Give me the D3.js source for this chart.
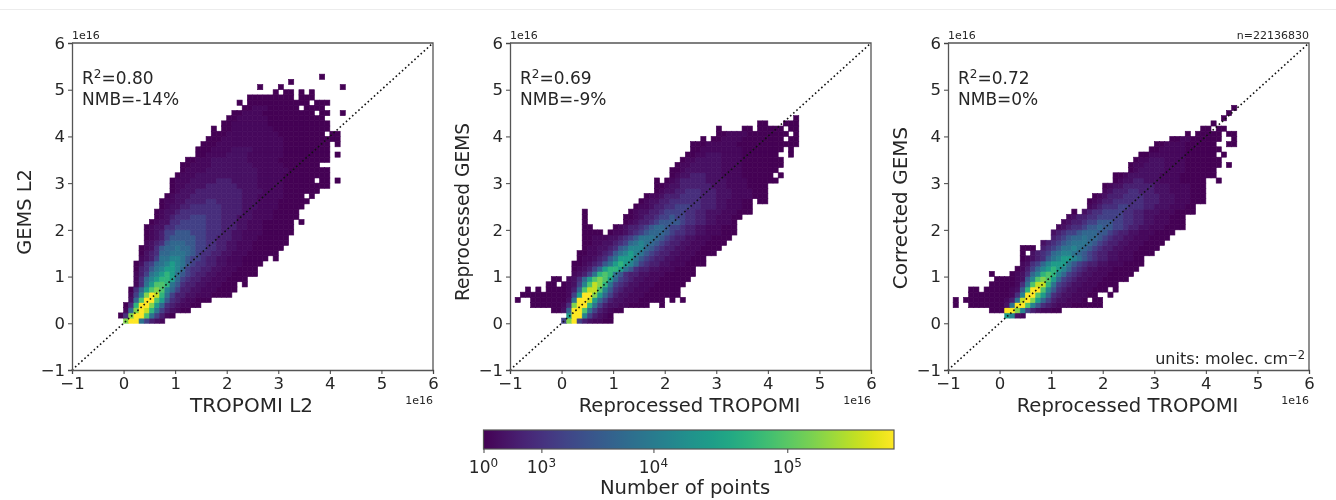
<!DOCTYPE html>
<head>
  <meta charset="utf-8" />
  <script src="https://d3js.org/d3.v7.min.js"></script>
  <style>
    body {
      margin: 0;
      background: #fff;
    }
    svg {
      filter: blur(0.35px);
    }
    text {
      font-family: "DejaVu Sans", sans-serif;
      fill: #262626;
    }
    .domain {
      stroke: #555;
      stroke-width: 1.3px;
    }
    .tick line {
      stroke: #444;
    }
  </style>
</head>

<body>
  <script>
    // counts behind each letter used in the row strings below (0-f)
    var levelCounts = [1, 3, 8, 60, 600, 1500, 3000, 4900, 7500, 13000, 26000, 53000, 87000, 160000, 300000, 550000];

    var axisTicks = [-1, 0, 1, 2, 3, 4, 5, 6];
    var colorTicks = [1, 1000, 10000, 100000];
    var colorTickExponents = ["0", "3", "4", "5"];
    var colorDomain = [1, 1000, 10000, 100000, 550000];
    var colorStops = [0, 0.141, 0.414, 0.74, 1];

    var xLabels = ["TROPOMI L2", "Reprocessed TROPOMI", "Reprocessed TROPOMI"];
    var yLabels = ["GEMS L2", "Reprocessed GEMS", "Corrected GEMS"];
    var yLabelSizes = [19.4, 18.6, 20];
    var yLabelMiddles = [212, 212, 208];
    var r2Labels = ["0.80", "0.69", "0.72"];
    var nmbLabels = ["-14%", "-9%", "0%"];

    // one row of bins: [row, first column, level per column], a blank is an empty bin
    // columns are 0.1 wide and rows 1/9 high, counted from 0
    var rowsL2 = [
      [0, 0, "dff85321"],
      [1, -1, "04dffc85310"],
      [2, 0, "17dfeb8532100"],
      [3, 0, "04bffda74321100"],
      [4, 1, "27cffca643211000"],
      [5, 1, "159dfeb8533221110000"],
      [6, 1, "047acdc97533221110000"],
      [7, 2, "148accb8643322111000 0"],
      [8, 2, "1479abba75433221110000"],
      [9, 2, "13589aba8654332211100000"],
      [10, 2, "034689aa9754433221110000"],
      [11, 2, "0245789a98654433221110000"],
      [12, 3, "1235889986554332211100000 0"],
      [13, 3, "023477888765443322111000000"],
      [14, 3, "0124677877655443322111000000"],
      [15, 4, "1234677766554433221110000000"],
      [16, 4, "0123566666554433322111000000"],
      [17, 4, "01235566655544433221111000000"],
      [18, 4, "01224455555544433322111000000"],
      [19, 5, "0122445555544433322111000000 0"],
      [20, 6, "0123444555444333222111100000"],
      [21, 6, "0122344444444333322111100000"],
      [22, 7, "0122334444443333222111100000"],
      [23, 7, "01122333344333332221111000000"],
      [24, 8, "012223333333333222111110000 0"],
      [25, 9, "01222333333333222211110000000"],
      [26, 9, "0112222333333222211111000000000"],
      [27, 9, "0111222223332222211111000000 00 0"],
      [28, 10, "011122222222222211111000000000"],
      [29, 11, "01111222222222211111100000000"],
      [30, 11, "001111222222221111110000000"],
      [31, 12, "0011122222221111110000000000"],
      [32, 14, "00111122221111111000000000 0"],
      [33, 14, "00011112222111111000000000"],
      [34, 15, "0001111111111111000000000 0"],
      [35, 16, "00011111111111100000000000"],
      [36, 17, "0001111111111000000000 00"],
      [37, 17, "0 001111111100000000000"],
      [38, 19, "001111111000000000000"],
      [39, 20, "0011111100000000000"],
      [40, 21, "0011110000000000 00  0"],
      [41, 23, "00111000000 0000"],
      [42, 22, "0 000000000000 000"],
      [43, 24, "000000000 000"],
      [44, 29, "0 00 0 0"],
      [45, 26, "0   0           0"],
      [46, 32, "0"],
      [47, 38, "0"]
    ];

    var rowsReprocessed = [
      [0, 0, "5df5321100"],
      [1, 1, "aff953210"],
      [2, -2, "0027ffc8532100"],
      [3, -6, "00000014dffb85322110000  0"],
      [4, -9, "0  000000028ffea7532211100000 0 0"],
      [5, -8, "00000000015affda753221110000000"],
      [6, -7, "0 0 0000137ceec964322111000000"],
      [7, -3, "00 01259cedb854322111000000"],
      [8, -2, "00 1247acdca754322111000000"],
      [9, 2, "12358bcb8643322111000000"],
      [10, 2, "012357abba86433221110000"],
      [11, 2, "00123468aba975433221110000"],
      [12, 3, "01123468aaa86543322111000"],
      [13, 3, "0011234689a9865433221110000"],
      [14, 4, "011223467999765433221110000"],
      [15, 4, "0011223457898765433221110000"],
      [16, 4, "00111223456888765433221110000"],
      [17, 4, "0000 0112345677765443322111000"],
      [18, 4, "00    012334567765543322111000"],
      [19, 4, "0       0123345666654433221110"],
      [20, 4, "0       00123345565544332211100"],
      [21, 4, "0        012233455554433222111000"],
      [22, 14, "01123344555443332211100"],
      [23, 15, "0122334444443332211100 00"],
      [24, 16, "011233344443332221111000"],
      [25, 18, "0122334443332221111000"],
      [26, 18, "0012233333322211110000"],
      [27, 18, "0 0123333322221111000000"],
      [28, 21, "01223332221111000000 0"],
      [29, 21, "001222222211110000000"],
      [30, 22, "011222222111100000000"],
      [31, 23, "01122222111100000000"],
      [32, 24, "001122211110000000  0"],
      [33, 25, "001111111100000000 0"],
      [34, 25, "000111111000000000000"],
      [35, 27, "0 00111100000000 00"],
      [36, 30, "00111100000000 0"],
      [37, 30, "0    00 00000 00"],
      [38, 38, "00   000"],
      [39, 45, "0"]
    ];

    var rowsCorrected = [
      [1, 1, "a921"],
      [2, -2, "000ffd95321100"],
      [3, -9, "0  000000028ffc96432111000000"],
      [4, -9, "0 00000000138efda753221110 00"],
      [5, -6, "00000000149ffca7432211100  0"],
      [6, -6, "00 00000126bffc964322111000 0"],
      [7, -2, "00000148ceeb8543221110000"],
      [8, -1, "00001269cdca75432211100000"],
      [9, -2, "0   012479bcb975432211100000"],
      [10, 3, "013579aba975432211100000"],
      [11, 4, "124579aaa865433221110000"],
      [12, 4, "01234689aa98654332211100"],
      [13, 4, "0 234578998765433221110000"],
      [14, 4, "000 34568898765433221110000"],
      [15, 8, "234567888765433221110000"],
      [16, 10, "34567787765433221110000"],
      [17, 10, "234556777665433221110000"],
      [18, 11, "1234456676655433221110000"],
      [19, 12, "123345566655443322111000"],
      [20, 13, "12334455555443322111000"],
      [21, 14, "0 2344555544332221110000"],
      [22, 17, "123444554443322211100"],
      [23, 17, "01233444444333222111000"],
      [24, 18, "0123334444333222111000"],
      [25, 20, "12333443332221111000"],
      [26, 20, "01223333332221111000"],
      [27, 22, "012233222111100000  0"],
      [28, 22, "00122222211110000000"],
      [29, 25, "01222221111000000"],
      [30, 25, "011222211110000000 0"],
      [31, 26, "01122211110000000"],
      [32, 27, "001111111000000 0"],
      [33, 29, "00111110000000"],
      [34, 30, "001111000000  00"],
      [35, 33, "0011000000  0"],
      [36, 36, "0 00000 00"],
      [37, 39, "00 00"],
      [38, 41, "0"],
      [39, 43, "0"],
      [40, 44, "0"],
      [41, 45, "0"]
    ];

    var panelRows = [rowsL2, rowsReprocessed, rowsCorrected];
    var panelLeft = [72, 510, 948];
    var panelTop = 43, panelWidth = 361, panelHeight = 327;

    var svg = d3.select("body").append("svg")
      .attr("width", 1336)
      .attr("height", 500)
      .style("display", "block");

    svg.append("line")
      .attr("x1", 0).attr("x2", 1336)
      .attr("y1", 9.5).attr("y2", 9.5)
      .attr("stroke", "#ececec");

    var x = d3.scaleLinear().domain([-1, 6]).range([0, panelWidth]);
    var y = d3.scaleLinear().domain([-1, 6]).range([panelHeight, 0]);

    var norm = d3.scaleLog().domain(colorDomain).range(colorStops);

    function expand(rows) {
      var cells = [];
      rows.forEach(function (row) {
        Array.from(row[2]).forEach(function (ch, i) {
          if (ch !== " ") {
            cells.push({ col: row[1] + i, row: row[0], count: levelCounts[parseInt(ch, 16)] });
          }
        });
      });
      return cells;
    }

    function tickText(d) {
      return d < 0 ? "\u2212" + (-d) : d;
    }

    panelRows.forEach(function (rows, p) {
      var g = svg.append("g").attr("transform", "translate(" + panelLeft[p] + "," + panelTop + ")");

      g.selectAll("rect.cell")
        .data(expand(rows))
        .join("rect")
        .attr("class", "cell")
        .attr("x", function (d) { return x(d.col / 10); })
        .attr("y", function (d) { return y((d.row + 1) / 9); })
        .attr("width", x(0.1) - x(0))
        .attr("height", y(0) - y(1 / 9))
        .attr("fill", function (d) { return d3.interpolateViridis(norm(d.count)); })
        .attr("stroke", function (d) { return d3.interpolateViridis(norm(d.count)); })
        .attr("stroke-width", 0.6);

      // 1:1 line
      g.append("line")
        .attr("x1", x(-1)).attr("y1", y(-1))
        .attr("x2", x(6)).attr("y2", y(6))
        .attr("stroke", "#111")
        .attr("stroke-width", 1.6)
        .attr("stroke-dasharray", "1.6 2.6");

      var xAxis = g.append("g")
        .attr("transform", "translate(0," + panelHeight + ")")
        .call(d3.axisBottom(x).tickValues(axisTicks).tickSize(4).tickPadding(3).tickFormat(tickText));
      var yAxis = g.append("g")
        .call(d3.axisLeft(y).tickValues(axisTicks).tickSize(4).tickPadding(3).tickFormat(tickText));
      xAxis.selectAll("text").style("font-size", "16.5px");
      yAxis.selectAll("text").style("font-size", "16.5px");

      // top and right spines
      g.append("path")
        .attr("d", "M0,0H" + panelWidth + "V" + panelHeight)
        .attr("fill", "none")
        .attr("stroke", "#555")
        .attr("stroke-width", 1.3);

      g.append("text").text("1e16")
        .attr("x", 0).attr("y", -4)
        .style("font-size", "11px");
      g.append("text").text("1e16")
        .attr("x", panelWidth).attr("y", panelHeight + 34)
        .attr("text-anchor", "end")
        .style("font-size", "11px");

      g.append("text").text(xLabels[p])
        .attr("x", panelWidth / 2 - 1).attr("y", panelHeight + 42)
        .attr("text-anchor", "middle")
        .style("font-size", p == 0 ? "20px" : "19.6px");
      g.append("text").text(yLabels[p])
        .attr("transform", "translate(-41," + (yLabelMiddles[p] - panelTop) + ") rotate(-90)")
        .attr("text-anchor", "middle")
        .style("font-size", yLabelSizes[p] + "px");

      var r2 = g.append("text")
        .attr("x", 10).attr("y", 41)
        .style("font-size", "17px");
      r2.append("tspan").text("R");
      r2.append("tspan").text("2").attr("dy", -6).style("font-size", "12px");
      r2.append("tspan").text("=" + r2Labels[p]).attr("dy", 6);

      g.append("text").text("NMB=" + nmbLabels[p])
        .attr("x", 10).attr("y", 62)
        .style("font-size", "17px");
    });

    // only on the last panel
    var last = svg.append("g").attr("transform", "translate(" + panelLeft[2] + "," + panelTop + ")");
    last.append("text").text("n=22136830")
      .attr("x", panelWidth).attr("y", -4)
      .attr("text-anchor", "end")
      .style("font-size", "11px");
    var units = last.append("text")
      .attr("x", panelWidth - 4).attr("y", panelHeight - 6)
      .attr("text-anchor", "end")
      .style("font-size", "16px");
    units.append("tspan").text("units: molec. cm");
    units.append("tspan").text("\u22122").attr("dy", -5).style("font-size", "11.5px");

    // colorbar
    var barLeft = 483.5, barTop = 430, barWidth = 410.5, barHeight = 19;
    var grad = svg.append("defs").append("linearGradient").attr("id", "viridisBar");
    d3.range(0, 1.001, 0.05).forEach(function (t) {
      grad.append("stop")
        .attr("offset", t)
        .attr("stop-color", d3.interpolateViridis(t));
    });

    var bar = svg.append("g").attr("transform", "translate(" + barLeft + "," + barTop + ")");
    bar.append("rect")
      .attr("width", barWidth)
      .attr("height", barHeight)
      .attr("fill", "url(#viridisBar)")
      .attr("stroke", "#555")
      .attr("stroke-width", 1.2);

    var barScale = d3.scaleLog().domain(colorDomain).range(colorStops.map(function (s) { return s * barWidth; }));
    var barAxis = bar.append("g")
      .attr("transform", "translate(0," + barHeight + ")")
      .call(d3.axisBottom(barScale).tickValues(colorTicks).tickSize(4).tickFormat(""));
    barAxis.select(".domain").remove();

    colorTicks.forEach(function (v, i) {
      var label = bar.append("text")
        .attr("x", barScale(v))
        .attr("y", barHeight + 24)
        .attr("text-anchor", "middle")
        .style("font-size", "17px");
      label.append("tspan").text("10");
      label.append("tspan").text(colorTickExponents[i]).attr("dy", -6).style("font-size", "12px");
    });

    svg.append("text").text("Number of points")
      .attr("x", 685).attr("y", 494)
      .attr("text-anchor", "middle")
      .style("font-size", "19.6px");
  </script>
</body>
